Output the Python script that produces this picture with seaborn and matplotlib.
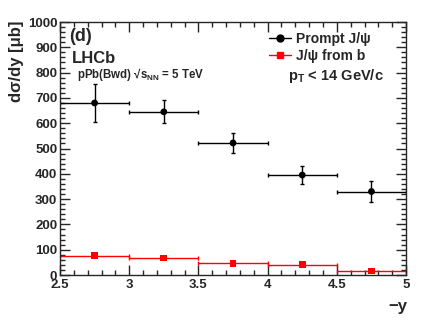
import matplotlib
matplotlib.use("Agg")
import matplotlib.pyplot as plt
import seaborn as sns
import numpy as np
import pandas as pd
from matplotlib.ticker import MultipleLocator
from matplotlib.lines import Line2D

sns.set_style("ticks")
plt.rcParams['font.family'] = ['Liberation Sans', 'DejaVu Sans']
plt.rcParams['mathtext.fontset'] = 'custom'
plt.rcParams['mathtext.rm'] = 'Liberation Sans:bold'
plt.rcParams['mathtext.it'] = 'Liberation Sans:bold'
plt.rcParams['mathtext.bf'] = 'Liberation Sans:bold'

# data
y_centers = [2.75, 3.25, 3.75, 4.25, 4.75]
y_halfwidth = [0.25, 0.25, 0.25, 0.25, 0.25]
prompt = [680, 645, 522, 395, 330]
prompt_err = [75, 45, 40, 35, 40]
fromb = [76, 67, 47, 41, 16]
fromb_err = [5, 5, 4, 4, 3]
legend_labels = ["Prompt J/\u03c8", "J/\u03c8 from b"]

df = pd.DataFrame({"y": y_centers + y_centers,
                   "val": prompt + fromb,
                   "series": ["Prompt"] * 5 + ["b"] * 5})

fig = plt.figure(figsize=(4.27, 3.2), dpi=100)
ax = fig.add_axes([0.1405, 0.1406, 0.8105, 0.7906])

ax.errorbar(y_centers, prompt, xerr=y_halfwidth, yerr=prompt_err, fmt='none',
            ecolor='black', elinewidth=1.0, capsize=1.5, capthick=1.0, zorder=2)
ax.errorbar(y_centers, fromb, xerr=y_halfwidth, yerr=fromb_err, fmt='none',
            ecolor='red', elinewidth=1.0, capsize=1.5, capthick=1.0, zorder=2)
sns.scatterplot(data=df, x="y", y="val", hue="series", style="series",
                palette={"Prompt": "black", "b": "red"},
                markers={"Prompt": "o", "b": "s"}, s=24, edgecolor='none',
                legend=False, ax=ax, zorder=3)

ax.set_xlim(2.5, 5.0)
ax.set_ylim(0, 1000)
ax.xaxis.set_major_locator(MultipleLocator(0.5))
ax.xaxis.set_minor_locator(MultipleLocator(0.1))
ax.yaxis.set_major_locator(MultipleLocator(100))
ax.yaxis.set_minor_locator(MultipleLocator(20))
ax.tick_params(which='both', direction='in', top=True, right=True, width=1.0,
               labelsize=9.5, pad=2)
ax.tick_params(which='major', length=7)
ax.tick_params(which='minor', length=3.5)
ax.tick_params(axis='x', pad=3)
for lab in ax.get_xticklabels() + ax.get_yticklabels():
    lab.set_fontweight('bold')
ax.xaxis.set_major_formatter(matplotlib.ticker.FuncFormatter(lambda v, p: f"{v:g}"))
for sp in ax.spines.values():
    sp.set_linewidth(1.0)
ax.set_xlabel("")
ax.set_ylabel("")

fig.text(0.02, 0.935, "d\u03c3/dy [\u03bcb]", rotation=90, ha='left', va='top',
         fontsize=12, fontweight='bold')
fig.text(0.953, 0.02, "\u2212y", ha='right', va='bottom', fontsize=12, fontweight='bold')

ax.text(0.025, 0.975, "(d)", transform=ax.transAxes, ha='left', va='top',
        fontsize=13, fontweight='bold')
ax.text(0.035, 0.838, "LHCb", transform=ax.transAxes, ha='left', va='baseline',
        fontsize=12, fontweight='bold')
ax.text(0.048, 0.779, "pPb(Bwd) \u221as$_{\\rm NN}$ = 5 TeV", transform=ax.transAxes,
        ha='left', va='baseline', fontsize=8.3, fontweight='bold')

handles = [Line2D([], [], color='black', marker='o', markersize=5, lw=1),
           Line2D([], [], color='red', marker='s', markersize=5, lw=1)]
leg = ax.legend(handles, legend_labels, loc='upper left',
                bbox_to_anchor=(0.604, 0.96), frameon=False, handlelength=1.6,
                handletextpad=0.36, labelspacing=0.22, borderpad=0, borderaxespad=0,
                prop={'weight': 'bold', 'size': 10})
ax.text(0.659, 0.771, r"p$_{\rm T}$ < 14 GeV/c", transform=ax.transAxes,
        ha='left', va='baseline', fontsize=10.5, fontweight='bold')

fig.savefig("out.png", dpi=100)
